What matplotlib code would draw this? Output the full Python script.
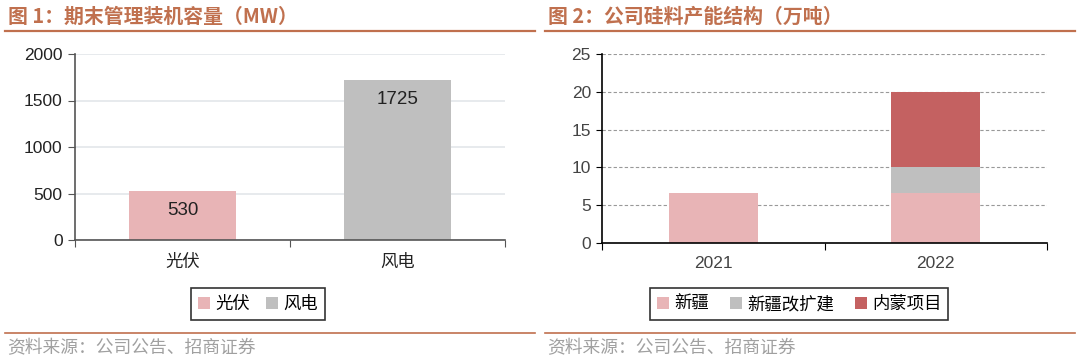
import matplotlib
matplotlib.use("Agg")
import matplotlib.pyplot as plt
from matplotlib.patches import Patch
from matplotlib.lines import Line2D

plt.rcParams['font.family'] = ['Liberation Sans', 'Noto Sans CJK SC', 'DejaVu Sans']

# ---- data ----
left_title = "图 1：期末管理装机容量（MW）"
left_cats = ["光伏", "风电"]
left_vals = [530, 1725]
left_colors = ["#E8B4B6", "#BFBFBF"]
left_yticks = [0, 500, 1000, 1500, 2000]

right_title = "图 2：公司硅料产能结构（万吨）"
right_cats = ["2021", "2022"]
right_series = ["新疆", "新疆改扩建", "内蒙项目"]
xinjiang = [6.6, 6.6]
xinjiang_ext = [0, 3.4]
neimeng = [0, 10]
right_colors = ["#E8B4B6", "#BFBFBF", "#C46161"]
right_yticks = [0, 5, 10, 15, 20, 25]

source_text = "资料来源：公司公告、招商证券"

title_color = "#C0704E"
line_color = "#C0704E"
cjk = ['Noto Sans CJK SC', 'DejaVu Sans']

fig = plt.figure(figsize=(10.8, 3.63), dpi=100)

# header / footer lines and texts
for x0, x1, t in [(0.005, 0.495, left_title), (0.505, 0.995, right_title)]:
    fig.add_artist(Line2D([x0, x1], [1 - 31/363, 1 - 31/363], color=line_color, lw=1.6,
                          transform=fig.transFigure))
    fig.add_artist(Line2D([x0, x1], [1 - 333/363, 1 - 333/363], color=line_color, lw=1.2,
                          transform=fig.transFigure))
    fig.text(x0 + 0.002, 1 - 16/363, t, color=title_color, fontsize=14.3, fontweight='bold',
             va='center', ha='left', family=cjk)
    fig.text(x0 + 0.002, 1 - 348/363, source_text, color="#A0A0A0", fontsize=12.8,
             va='center', ha='left', family=cjk)

# ---- left chart ----
axL = fig.add_axes([75/1080, 1 - 240/363, 430/1080, 186/363])
xl = range(len(left_cats))
bars = axL.bar(xl, left_vals, width=0.5, color=left_colors, zorder=2)
for b, v in zip(bars, left_vals):
    axL.text(b.get_x() + b.get_width()/2, v - 215, str(v), ha='center', va='center',
             fontsize=13.5, color='#222222', zorder=3)
axL.set_xlim(-0.5, 1.5)
axL.set_ylim(0, 2000)
axL.set_yticks(left_yticks)
axL.set_yticklabels([str(v) for v in left_yticks], fontsize=12.5, color='#222222')
axL.set_xticks([-0.5, 0.5, 1.5])
axL.set_xticklabels([])
axL.set_xticks(list(xl), minor=True)
axL.set_xticklabels(left_cats, minor=True, fontsize=12.5, family=cjk, color='#222222')
axL.tick_params(axis='x', which='minor', length=0, pad=9)
axL.tick_params(axis='x', which='major', length=5, color='#555555', direction='out')
axL.tick_params(axis='y', length=5, color='#555555', pad=4)
axL.grid(axis='y', color='#E3E6EA', lw=1.2, zorder=0)
for s in ['top', 'right']:
    axL.spines[s].set_visible(False)
for s in ['left', 'bottom']:
    axL.spines[s].set_color('#555555')
    axL.spines[s].set_linewidth(1.2)
handlesL = [Patch(facecolor=c, label=l) for c, l in zip(left_colors, left_cats)]
legL = fig.legend(handles=handlesL, loc='center', bbox_to_anchor=(258/1080, 1 - 304/363),
                  ncol=2, frameon=True, fancybox=False, edgecolor='black',
                  prop={'family': cjk, 'size': 12.5}, handlelength=0.7, handleheight=0.7,
                  handletextpad=0.3, columnspacing=0.9, borderpad=0.4)
legL.get_frame().set_linewidth(1.2)

# ---- right chart ----
axR = fig.add_axes([602/1080, 1 - 243/363, 445/1080, 189/363])
xr = range(len(right_cats))
b1 = axR.bar(xr, xinjiang, width=0.4, color=right_colors[0], zorder=2, label=right_series[0])
b2 = axR.bar(xr, xinjiang_ext, width=0.4, bottom=xinjiang, color=right_colors[1], zorder=2,
             label=right_series[1])
bottom3 = [a + b for a, b in zip(xinjiang, xinjiang_ext)]
b3 = axR.bar(xr, neimeng, width=0.4, bottom=bottom3, color=right_colors[2], zorder=2,
             label=right_series[2])
axR.set_xlim(-0.5, 1.5)
axR.set_ylim(0, 25)
axR.set_yticks(right_yticks)
axR.set_yticklabels([str(v) for v in right_yticks], fontsize=12.5, color='#444444')
axR.set_xticks([-0.5, 0.5, 1.5])
axR.set_xticklabels([])
axR.set_xticks(list(xr), minor=True)
axR.set_xticklabels(right_cats, minor=True, fontsize=12.5, color='#444444')
axR.tick_params(axis='x', which='minor', length=0, pad=9)
axR.tick_params(axis='x', which='major', length=5, color='black', direction='out')
axR.tick_params(axis='y', length=4, color='black', pad=4)
axR.grid(axis='y', color='#999999', lw=0.8, ls=(0, (3, 2)), zorder=0)
for s in ['top', 'right']:
    axR.spines[s].set_visible(False)
for s in ['left', 'bottom']:
    axR.spines[s].set_color('black')
    axR.spines[s].set_linewidth(1.2)
handlesR = [Patch(facecolor=c, label=l) for c, l in zip(right_colors, right_series)]
legR = fig.legend(handles=handlesR, loc='center', bbox_to_anchor=(799/1080, 1 - 304/363),
                  ncol=3, frameon=True, fancybox=False, edgecolor='black',
                  prop={'family': cjk, 'size': 12.5}, handlelength=0.7, handleheight=0.7,
                  handletextpad=0.3, columnspacing=1.2, borderpad=0.4)
legR.get_frame().set_linewidth(1.2)

fig.savefig("out.png", dpi=100)
